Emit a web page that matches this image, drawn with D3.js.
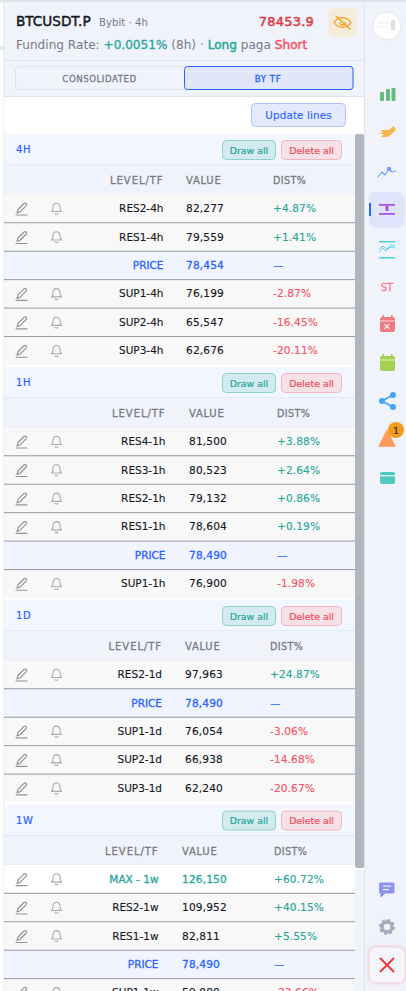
<!DOCTYPE html>
<html>
<head>
<meta charset="utf-8">
<script src="https://cdn.jsdelivr.net/npm/d3@7"></script>
<style>
  html, body { margin: 0; padding: 0; background: #fff; overflow: hidden; }
  svg { display: block; }
  text { font-family: "DejaVu Sans", sans-serif; }
</style>
</head>
<body>
<div id="chart"></div>
<script>
const symbol = "BTCUSDT.P", exchange = "Bybit · 4h", lastPrice = "78453.9";
const tabs = ["CONSOLIDATED", "BY TF"];
const columns = ["LEVEL/TF", "VALUE", "DIST%"];

const sectionNames = ["4H", "1H", "1D", "1W"];
const levels4h = ["RES2-4h", "RES1-4h", "PRICE", "SUP1-4h", "SUP2-4h", "SUP3-4h"];
const values4h = [82277, 79559, 78454, 76199, 65547, 62676];
const dist4h = [4.87, 1.41, null, -2.87, -16.45, -20.11];
const levels1h = ["RES4-1h", "RES3-1h", "RES2-1h", "RES1-1h", "PRICE", "SUP1-1h"];
const values1h = [81500, 80523, 79132, 78604, 78490, 76900];
const dist1h = [3.88, 2.64, 0.86, 0.19, null, -1.98];
const levels1d = ["RES2-1d", "PRICE", "SUP1-1d", "SUP2-1d", "SUP3-1d"];
const values1d = [97963, 78490, 76054, 66938, 62240];
const dist1d = [24.87, null, -3.06, -14.68, -20.67];
const levels1w = ["MAX - 1w", "RES2-1w", "RES1-1w", "PRICE", "SUP1-1w"];
const values1w = [126150, 109952, 82811, 78490, 59888];
const dist1w = [60.72, 40.15, 5.55, null, -23.66];

const sectionLevels = [levels4h, levels1h, levels1d, levels1w];
const sectionValues = [values4h, values1h, values1d, values1w];
const sectionDist = [dist4h, dist1h, dist1d, dist1w];
// auto table columns shift a bit per section: level right edge, value left, dist left
const sectionCols = [[163.5, 186, 273], [165.5, 189, 277], [162, 185, 270], [158.5, 182, 274]];

const width = 406, height = 991;
const blue = "#2962ff", green = "#26a69a", grey = "#787b86", pinkRed = "#f7525f";

const svg = d3.select("#chart").append("svg").attr("width", width).attr("height", height);

function rect(x, y, w, h, fill, stroke, r) {
    return svg.append("rect").attr("x", x).attr("y", y).attr("width", w).attr("height", h)
        .attr("fill", fill).attr("stroke", stroke || "none").attr("rx", r || 0);
}
// DejaVu has no medium weight, so thicken the regular cut with a thin outline
function thicken(sel, heavy, fill) {
    if (heavy) sel.attr("stroke", fill).attr("stroke-width", heavy);
    return sel;
}
function label(x, y, str, size, fill, heavy, anchor, spacing) {
    const t = svg.append("text").attr("x", x).attr("y", y).text(str)
        .attr("font-size", size).attr("fill", fill)
        .attr("text-anchor", anchor || "start")
        .attr("letter-spacing", spacing || 0);
    return thicken(t, heavy, fill);
}
function icon(x, y, d, fill, stroke, sw) {
    return svg.append("path").attr("transform", `translate(${x},${y})`).attr("d", d)
        .attr("fill", fill || "none").attr("stroke", stroke || "none").attr("stroke-width", sw || 1)
        .attr("stroke-linecap", "round").attr("stroke-linejoin", "round");
}

// page + panel background
rect(0, 0, width, height, "#ffffff");
rect(0, 0, width, 2.5, "#e0e3eb");
rect(0, 46, 4, 4, "#e8e8e8");
rect(4, 2.5, 360, 58, "#f0f3fa");
rect(4, 60, 360, 1, "#e0e3eb");
rect(4, 61, 360, 36, "#f0f3fa");
rect(4, 96, 360, 1, "#e0e3eb");
rect(3.5, 0, 1, height, "#e0e3eb");
rect(364, 2.5, 42, height, "#f0f3fa");
rect(364, 2.5, 1, height, "#e0e3eb");

// header
label(16, 26, symbol, 13.6, "#131722", 0.45);
label(99, 26, exchange, 10.2, grey);
label(314, 26, lastPrice, 13, "#d9363e", 0.45, "end", 0.2);
rect(328, 8, 29, 29, "#f6ecdb", null, 6);
icon(342.5, 22.5, "M-8.5 0C-4 -6.5 4 -6.5 8.5 0C4 6.5 -4 6.5 -8.5 0ZM-2.5 0A2.5 2.5 0 1 0 2.5 0M-6.5 -6.5L7.5 6.5", "none", "#f39c12", 1.3);
const fund = label(16, 49, "", 12.1, grey);
fund.append("tspan").text("Funding Rate: ");
thicken(fund.append("tspan").text("+0.0051%").attr("fill", green), 0.3, green);
fund.append("tspan").text(" (8h) · ");
thicken(fund.append("tspan").text("Long").attr("fill", green), 0.45, green);
fund.append("tspan").text(" paga ");
thicken(fund.append("tspan").text("Short").attr("fill", pinkRed), 0.45, pinkRed);

// tabs
rect(15.5, 66.5, 338, 23, "#f0f3fa", "#e0e3eb", 3);
rect(184.5, 66.5, 168.5, 23, "#e1e7f8", blue, 3);
label(99.5, 82, tabs[0], 8.6, grey, 0.3, "middle", 0.55);
label(268, 82, tabs[1], 8.6, blue, 0.3, "middle", 0.55);

// update button
rect(4, 97, 360, 37, "#ffffff");
rect(251.5, 103.5, 94, 23, "#e3eafc", "#aec5fb", 4);
label(298.5, 119, "Update lines", 10.4, blue, 0.12, "middle", 0.1);

const pencil = "M1 11L2 7.5L8 1.5Q9.3 0.6 10.3 1.6Q11 2.8 10 3.8L4 9.8L1 11M0 13H11";
const bell = "M1 9.5Q2.5 8.5 2.5 5.5Q2.5 1.2 6 1.2Q9.5 1.2 9.5 5.5Q9.5 8.5 11 9.5ZM4.5 11.5Q6 13 7.5 11.5";

const bandH = 31, headH = 29.3, rowH = 28.45, gapH = 2;
const rowDiv = "#9598a1";
const fmt = d3.format(",");
const fmtDist = d => (d > 0 ? "+" : "-") + Math.abs(d).toFixed(2) + "%";
let cursorY = 134;

sectionNames.forEach((name, s) => {
    const [colLevel, colValue, colDist] = sectionCols[s];
    const bandTop = cursorY;
    rect(4, bandTop, 351, bandH, "#f2f6fe");
    rect(4, bandTop + bandH - 0.5, 351, 1, "#cfdcf7");
    label(16, bandTop + 19, name, 10, blue, 0.2, "start", 0.6);

    rect(222.5, bandTop + 6.5, 53, 19, "#d3ebee", "#8fd0cc", 4);
    label(249, bandTop + 19.5, "Draw all", 9.4, green, 0.2, "middle");
    rect(281.5, bandTop + 6.5, 60, 19, "#f6e1e7", "#f3b6c0", 4);
    label(311.5, bandTop + 19.5, "Delete all", 9.4, "#ef4d5d", 0.2, "middle");

    const headTop = bandTop + bandH;
    rect(4, headTop, 351, headH, "#f0f3fa");
    rect(4, headTop + headH - 0.5, 351, 1, "#e0e3eb");
    label(colLevel, headTop + 19, columns[0], 10, grey, 0.3, "end", 0.95);
    label(colValue, headTop + 19, columns[1], 10, grey, 0.3, "start", 0.75);
    label(colDist, headTop + 19, columns[2], 9.6, grey, 0.3, "start", 0.4);

    const rowsTop = headTop + headH;
    const levels = sectionLevels[s];
    const y = d3.scaleBand().domain(d3.range(levels.length))
        .range([rowsTop, rowsTop + rowH * levels.length]);

    levels.forEach((lvl, i) => {
        const yy = y(i), mid = yy + rowH / 2;
        const isPrice = lvl === "PRICE", isMax = lvl.startsWith("MAX");
        rect(4, yy, 351, rowH, isPrice ? "#f0f4ff" : isMax ? "#ffffff" : "#f8f8f8");
        if (i > 0) rect(4, yy - 0.5, 351, 1, rowDiv);
        const base = mid + 3.6;
        const dv = sectionDist[s][i];
        if (!isPrice) {
            icon(16, mid - 6.5, pencil, "none", "#8f929b", 1.15);
            icon(50.5, mid - 6.5, bell, "none", "#a8abb3", 1.1);
        }
        const nameColor = isPrice ? blue : isMax ? green : "#131722";
        const heavy = isPrice || isMax ? 0.3 : 0.12;
        label(colLevel, base, lvl, 10.5, nameColor, heavy, "end");
        label(colValue, base, fmt(sectionValues[s][i]), 10.6, nameColor, heavy, "start", 0.15);
        if (dv === null) label(colDist, base, "—", 10.6, blue);
        else label(colDist, base, fmtDist(dv), 10.6, dv > 0 ? green : pinkRed, 0.12, "start", 0.1);
    });
    cursorY = rowsTop + rowH * levels.length + gapH;
    rect(4, cursorY - gapH, 351, gapH, "#ffffff");
});

// scrollbar
rect(355, 134, 9, 734, "#b2b5be", null, 2);
rect(355, 870, 9, 121, "#f0f3fa");

// sidebar
const side = 387;
svg.append("circle").attr("cx", side).attr("cy", 26).attr("r", 14).attr("fill", "#ffffff").attr("stroke", "#e6e6ea");
rect(378, 22, 12, 1.5, "#f0f0f1");
rect(378, 26, 10, 1.5, "#f3f3f4");
rect(391, 20, 4, 10, "#e3e0dc");

rect(380, 92, 4, 9, "#66bb7f", null, 1);
rect(386, 89, 4, 12, "#66bb7f", null, 1);
rect(391.5, 88, 4, 13, "#66bb7f", null, 1);

icon(side, 132, "M-7 -2L2 -2L7 -6L9 -2L1 5L-6 5L-3 2L-8 2L-4 0Z", "#f7b44e");

icon(side, 172, "M-9 5L-5 0L-2 3L2 -3L5 0L9 -1", "none", "#6d9ef5", 1.1);
svg.append("circle").attr("cx", side + 2).attr("cy", 169).attr("r", 2.2).attr("fill", "#6d9ef5");

rect(369, 192, 36, 36, "#dee5fb", null, 7);
rect(369, 203, 2, 13, blue);
rect(379, 204, 16, 1.8, "#a855e8");
rect(379, 213, 16, 1.8, "#a855e8");
rect(385.5, 206, 3, 5, "#a855e8");

rect(379, 241, 16, 1.5, "#4dd0e1");
rect(379, 257, 16, 1.5, "#4dd0e1");
icon(side, 249, "M-8 3L-4 -1L-1 2L3 -2L8 -1M-8 0L-4 -3L0 0L4 -4L8 -3", "none", "#4dd0e1", 0.9);

label(side, 291, "ST", 10, "#f77c8a", 0.3, "middle");

rect(380, 317, 15, 15, "#ef7a82", null, 2);
rect(380, 320.5, 15, 1, "#f7dada");
rect(382.5, 315, 1.5, 3, "#ef7a82"); rect(391, 315, 1.5, 3, "#ef7a82");
icon(side, 326.5, "M-2 -2L2 2M2 -2L-2 2", "none", "#fbe6e6", 1.3);

rect(380, 356, 15, 15, "#a2d24f", null, 2);
rect(380, 359.5, 15, 1, "#e4f2cb");
rect(382.5, 354, 1.5, 3, "#a2d24f"); rect(391, 354, 1.5, 3, "#a2d24f");

icon(side, 401, "M6 -6L-5 0L6 6", "none", "#42a5f5", 1.8);
[[6, -6], [-5, 0], [6, 6]].forEach(p => svg.append("circle").attr("cx", side + p[0]).attr("cy", 401 + p[1]).attr("r", 3).attr("fill", "#42a5f5"));

icon(side, 438, "M-8 8L0 -8L8 8Z", "#ff9a5a", "#ff9a5a", 1);
svg.append("circle").attr("cx", 396).attr("cy", 430).attr("r", 8).attr("fill", "#f09c1c");
label(396, 433.5, "1", 9.5, "#3b2a10", 0.2, "middle");

rect(380, 472, 15, 12, "#4dc9bd", null, 2);
rect(380, 475, 15, 1.4, "#e4f6f4");

// bottom icons
icon(side, 889, "M-7 -6H7V4H-2L-6 8V4H-7Z", "#8c94ef", "#8c94ef", 1);
rect(383, 885.5, 8, 1.2, "#f0f3fa");
rect(383, 889, 6, 1.2, "#f0f3fa");
svg.append("circle").attr("cx", side).attr("cy", 927).attr("r", 5).attr("fill", "none").attr("stroke", "#a4acbd").attr("stroke-width", 3.4);
svg.append("circle").attr("cx", side).attr("cy", 927).attr("r", 7).attr("fill", "none").attr("stroke", "#a4acbd").attr("stroke-width", 2).attr("stroke-dasharray", "3 2.5");

rect(369.5, 947.5, 35, 35, "#f4f5fb", null, 6).style("filter", "drop-shadow(0 0 2px #f7a9b6)");
icon(side, 965, "M-6.5 -6.5L6.5 6.5M6.5 -6.5L-6.5 6.5", "none", "#f23645", 2);
</script>
</body>
</html>
